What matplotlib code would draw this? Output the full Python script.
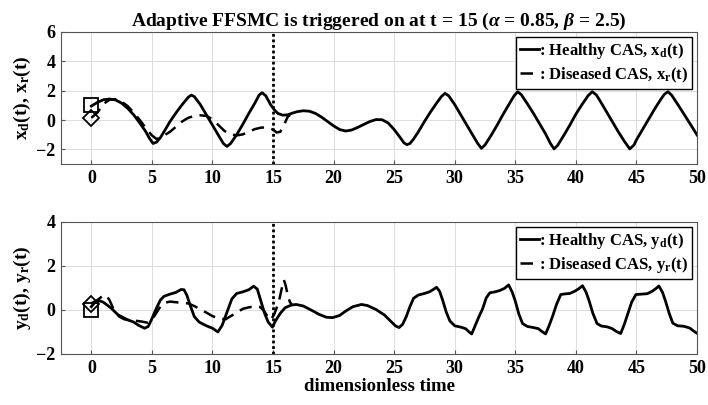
import matplotlib
matplotlib.use('Agg')
import matplotlib.pyplot as plt

plt.rcParams['font.family'] = ['Liberation Serif', 'DejaVu Serif']
plt.rcParams['font.weight'] = 'bold'
plt.rcParams['axes.titleweight'] = 'bold'
plt.rcParams['axes.labelweight'] = 'bold'
plt.rcParams['mathtext.fontset'] = 'custom'
plt.rcParams['mathtext.rm'] = 'Liberation Serif:bold'
plt.rcParams['mathtext.bf'] = 'Liberation Serif:bold'
plt.rcParams['mathtext.it'] = 'Liberation Serif:italic'

# healthy CAS x_d(t)
t_xd = [0, 0.5, 1, 1.5, 2, 2.5, 3, 3.5, 4, 4.5, 4.8, 5.1, 5.4, 5.7, 6, 6.5, 7, 7.5, 8, 8.25,
        8.5, 9, 9.5, 10, 10.5, 10.9, 11.2, 11.5, 12, 12.5, 13, 13.5, 13.85, 14.1, 14.4, 14.8,
        15.1, 15.4, 15.8, 16.2, 16.6, 17, 17.5, 18, 18.5, 19, 19.5, 20, 20.5, 21, 21.5, 22,
        22.5, 23, 23.5, 24, 24.5, 25, 25.5, 25.8, 26.05, 26.3, 26.6, 27, 27.5, 28, 28.5, 28.9,
        29.2, 29.5, 30, 30.5, 31, 31.5, 31.9, 32.2, 32.5, 33, 33.5, 34, 34.5, 34.9, 35.2, 35.5,
        36, 36.5, 37, 37.5, 37.9, 38.2, 38.5, 39, 39.5, 40, 40.5, 41, 41.35, 41.7, 42, 42.5,
        43, 43.5, 44, 44.45, 44.8, 45, 45.5, 46, 46.5, 47, 47.3, 47.6, 47.9, 48.5, 49, 49.5, 50]
x_d = [0.95, 1.2, 1.38, 1.43, 1.37, 1.15, 0.8, 0.35, -0.2, -0.8, -1.25, -1.6, -1.5, -1.2, -0.8,
       -0.1, 0.5, 1.05, 1.55, 1.7, 1.6, 1.05, 0.35, -0.35, -1.05, -1.6, -1.8, -1.6, -1.0, -0.3,
       0.45, 1.15, 1.7, 1.86, 1.65, 1.05, 0.7, 0.45, 0.33, 0.35, 0.47, 0.57, 0.63, 0.6, 0.45,
       0.2, -0.1, -0.4, -0.65, -0.75, -0.68, -0.5, -0.3, -0.1, 0.03, 0.02, -0.2, -0.65, -1.2,
       -1.55, -1.68, -1.6, -1.3, -0.8, -0.1, 0.55, 1.15, 1.6, 1.82, 1.65, 1.05, 0.35, -0.35,
       -1.05, -1.6, -1.93, -1.7, -1.05, -0.35, 0.4, 1.1, 1.65, 1.93, 1.72, 1.1, 0.45, -0.25,
       -0.95, -1.6, -1.97, -1.72, -1.05, -0.35, 0.4, 1.05, 1.65, 1.93, 1.7, 1.3, 0.6, -0.1,
       -0.8, -1.45, -1.97, -1.7, -1.35, -0.65, 0.05, 0.75, 1.4, 1.75, 1.93, 1.7, 0.95, 0.3,
       -0.35, -1.02]

# diseased CAS x_r(t), until it merges with x_d
t_xr = [0, 0.5, 1, 1.5, 2, 2.5, 3, 3.5, 4, 4.5, 5, 5.4, 5.8, 6.5, 7, 7.5, 8, 8.5, 9, 9.5,
        10, 10.5, 11, 11.5, 12, 12.5, 13, 13.5, 14, 14.5, 15, 15.3, 15.6, 15.9, 16.2, 16.4]
x_r = [0.15, 0.5, 1.1, 1.38, 1.42, 1.25, 0.95, 0.5, 0.0, -0.55, -1.05, -1.3, -1.15, -0.8,
       -0.45, -0.1, 0.15, 0.28, 0.32, 0.28, 0.05, -0.35, -0.75, -0.97, -1.05, -0.98, -0.8,
       -0.62, -0.52, -0.5, -0.65, -0.85, -0.8, -0.35, 0.2, 0.35]

# healthy CAS y_d(t)
t_yd = [0, 0.3, 0.65, 1.0, 1.6, 2.2, 3.0, 3.5, 3.9, 4.4, 4.7, 5.0, 5.35, 5.7, 6.0, 6.5, 7.0,
        7.4, 7.65, 7.9, 8.2, 8.5, 8.9, 9.5, 10.0, 10.45, 10.8, 11.2, 11.6, 12.0, 12.5, 13.0,
        13.4, 13.7, 14.0, 14.3, 14.6, 14.95, 15.2, 15.6, 16.0, 16.5, 16.9, 17.5, 18.2, 18.8,
        19.4, 19.9, 20.5, 21.0, 21.6, 22.3, 22.8, 23.5, 24.2, 24.7, 25.1, 25.4, 25.7, 26.0,
        26.3, 26.6, 27.0, 27.5, 27.9, 28.2, 28.5, 28.75, 29.0, 29.3, 29.6, 30.0, 30.5, 30.9,
        31.15, 31.4, 31.7, 32.0, 32.3, 32.6, 32.9, 33.3, 33.7, 34.1, 34.45, 34.75, 35.0, 35.3,
        35.6, 36.0, 36.5, 36.9, 37.2, 37.5, 37.8, 38.1, 38.4, 38.75, 39.1, 39.5, 39.9, 40.2,
        40.55, 40.85, 41.1, 41.4, 41.75, 42.1, 42.6, 43.0, 43.35, 43.7, 44.0, 44.3, 44.6,
        44.95, 45.4, 45.9, 46.3, 46.6, 46.85, 47.15, 47.4, 47.7, 48.0, 48.4, 48.9, 49.4, 49.7,
        50.0]
y_d = [0.15, 0.35, 0.42, 0.35, 0.1, -0.22, -0.45, -0.55, -0.7, -0.83, -0.75, -0.4, 0.05,
       0.45, 0.62, 0.72, 0.8, 0.93, 0.92, 0.65, 0.15, -0.3, -0.55, -0.72, -0.83, -1.0, -0.7,
       -0.1, 0.5, 0.75, 0.82, 0.92, 1.08, 0.95, 0.4, -0.15, -0.55, -0.78, -0.5, -0.15, 0.1,
       0.22, 0.25, 0.18, -0.02, -0.2, -0.33, -0.35, -0.25, -0.05, 0.15, 0.25, 0.2, 0.02, -0.23,
       -0.5, -0.72, -0.8, -0.65, -0.3, 0.15, 0.53, 0.68, 0.75, 0.82, 0.92, 1.03, 0.85, 0.45,
       -0.1, -0.5, -0.72, -0.78, -0.85, -0.98, -1.09, -0.7, -0.3, 0.05, 0.55, 0.78, 0.82, 0.88,
       0.98, 1.14, 0.8, 0.4, -0.2, -0.62, -0.75, -0.8, -0.85, -0.98, -1.09, -0.7, -0.25, 0.25,
       0.7, 0.73, 0.75, 0.85, 0.95, 1.1, 0.8, 0.4, -0.15, -0.62, -0.73, -0.77, -0.85, -0.98,
       -1.07, -0.65, -0.15, 0.35, 0.7, 0.72, 0.74, 0.85, 0.97, 1.09, 0.8, 0.4, -0.15, -0.6,
       -0.72, -0.74, -0.82, -0.95, -1.06]

# diseased CAS y_r(t)
t_yr = [0, 0.5, 0.9, 1.2, 1.5, 1.9, 2.3, 2.7, 3.3, 3.8, 4.2, 4.65, 5.0, 5.35, 5.75, 6.1, 6.5,
        7.0, 7.5, 8.0, 8.6, 9.0, 9.5, 10.0, 10.6, 11.1, 11.6, 12.0, 12.5, 13.0, 13.5, 13.9,
        14.2, 14.5, 14.8, 15.1, 15.3, 15.55, 15.75, 15.9, 16.05, 16.2, 16.4, 16.6]
y_r = [0.3, 0.45, 0.62, 0.68, 0.45, -0.05, -0.3, -0.42, -0.48, -0.5, -0.53, -0.58, -0.45,
       -0.15, 0.2, 0.33, 0.38, 0.35, 0.32, 0.3, 0.15, 0.02, -0.12, -0.28, -0.4, -0.42, -0.25,
       -0.12, 0.05, 0.12, 0.16, 0.14, 0.0, -0.25, -0.45, -0.2, 0.1, 0.55, 1.05, 1.36, 1.1, 0.7,
       0.35, 0.22]

t_on = 15
xticks = [0, 5, 10, 15, 20, 25, 30, 35, 40, 45, 50]

fig = plt.figure(figsize=(7.08, 4.05), dpi=100)
ax1 = fig.add_axes([0.0862, 0.595, 0.8983, 0.326])
ax2 = fig.add_axes([0.0862, 0.126, 0.8983, 0.326])


def style(ax, ylim, yticks):
    ax.set_xlim(-2.5, 50)
    ax.set_ylim(*ylim)
    ax.set_xticks(xticks)
    ax.set_yticks(yticks)
    ax.grid(True, color='#dcdcdc', linewidth=0.7)
    ax.set_axisbelow(True)
    ax.tick_params(direction='in', length=3, labelsize=13, color='#555555', pad=4)
    for s in ax.spines.values():
        s.set_color('#555555')
        s.set_linewidth(0.8)
    ax.axvline(t_on, color='k', linestyle=(0, (1, 1)), linewidth=2)


style(ax1, (-3, 6), [-2, 0, 2, 4, 6])
ax1.plot(t_xd, x_d, 'k-', lw=2, label=r': Healthy CAS, x$_{\rm d}$(t)')
ax1.plot(t_xr, x_r, 'k--', lw=1.8, dashes=(5, 3), label=r': Diseased CAS, x$_{\rm r}$(t)')
ax1.plot(0, 1.0, 's', ms=10, mfc='none', mec='k', mew=1.3)
ax1.plot(0, 0.15, 'D', ms=8, mfc='none', mec='k', mew=1.3)
ax1.set_ylabel(r'x$_{\rm d}$(t), x$_{\rm r}$(t)', fontsize=14, labelpad=2)
ax1.set_title(r'Adaptive FFSMC is triggered on at t = 15 ($\alpha$ = 0.85, $\beta$ = 2.5)',
              fontsize=14, pad=3)

style(ax2, (-2, 4), [-2, 0, 2, 4])
ax2.plot(t_yd, y_d, 'k-', lw=2, label=r': Healthy CAS, y$_{\rm d}$(t)')
ax2.plot(t_yr, y_r, 'k--', lw=1.8, dashes=(5, 3), label=r': Diseased CAS, y$_{\rm r}$(t)')
ax2.plot(0, 0.0, 's', ms=10, mfc='none', mec='k', mew=1.3)
ax2.plot(0, 0.25, 'D', ms=8, mfc='none', mec='k', mew=1.3)
ax2.set_ylabel(r'y$_{\rm d}$(t), y$_{\rm r}$(t)', fontsize=14, labelpad=2)
ax2.set_xlabel('dimensionless time', fontsize=13.5, labelpad=1)

for ax in (ax1, ax2):
    leg = ax.legend(loc='upper right', fontsize=12, handlelength=1.1, handletextpad=0.0,
                    borderpad=0.25, labelspacing=0.25, borderaxespad=0.3, fancybox=False,
                    framealpha=1)
    leg.get_frame().set_edgecolor('k')
    leg.get_frame().set_linewidth(1.0)

plt.savefig('out.png', dpi=100)
